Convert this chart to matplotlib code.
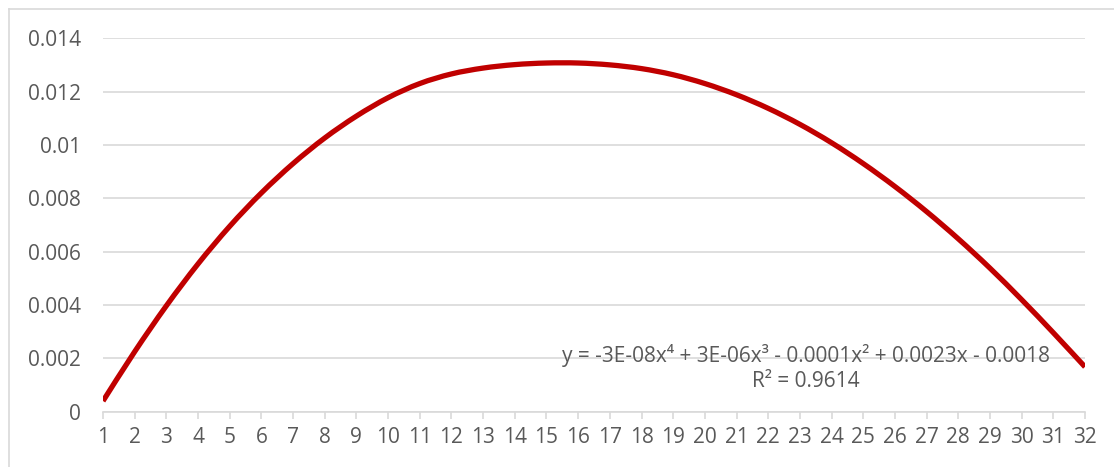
import numpy as np
import matplotlib.pyplot as plt
from matplotlib.lines import Line2D
from matplotlib.path import Path
from matplotlib.patches import PathPatch

# valores
dias = list(range(1, 33))
valores = [0.00040, 0.00225, 0.00397, 0.00554, 0.00695, 0.00820, 0.00930, 0.01026,
           0.01108, 0.01177, 0.01230, 0.01266, 0.01288, 0.01301, 0.01307, 0.01307,
           0.01300, 0.01286, 0.01263, 0.01230, 0.01188, 0.01137, 0.01077, 0.01008,
           0.00930, 0.00844, 0.00750, 0.00648, 0.00538, 0.00420, 0.00296, 0.00168]
ecuacion = 'y = -3E-08x\u2074 + 3E-06x\u00b3 - 0.0001x\u00b2 + 0.0023x - 0.0018'
r2 = 'R\u00b2 = 0.9614'

plt.rcParams['font.family'] = ['Open Sans', 'DejaVu Sans']
gris_txt = '#595959'
gris_lin = '#D9D9D9'

fig = plt.figure(figsize=(11.14, 4.67), dpi=100)
ax = fig.add_axes([103 / 1114, 1 - 411.7 / 467, (1085 - 103) / 1114, (411.7 - 38.2) / 467])

# linea suavizada como en Excel (curvas de Bezier entre los puntos)
x = np.array(dias, dtype=float)
y = np.array(valores)
verts = [(x[0], y[0])]
codes = [Path.MOVETO]
for i in range(len(x) - 1):
    x0, y0 = (x[i - 1], y[i - 1]) if i > 0 else (x[i], y[i])
    x3, y3 = (x[i + 2], y[i + 2]) if i + 2 < len(x) else (x[i + 1], y[i + 1])
    c1 = (x[i] + (x[i + 1] - x0) / 6, y[i] + (y[i + 1] - y0) / 6)
    c2 = (x[i + 1] - (x3 - x[i]) / 6, y[i + 1] - (y3 - y[i]) / 6)
    verts += [c1, c2, (x[i + 1], y[i + 1])]
    codes += [Path.CURVE4] * 3
ax.add_patch(PathPatch(Path(verts, codes), facecolor='none', edgecolor='#C00000',
                       linewidth=3.8, capstyle='butt', joinstyle='round', zorder=3))

ax.set_xlim(1, 32)
ax.set_ylim(0, 0.014)
ax.set_yticks(np.arange(0, 0.0141, 0.002))
ax.set_yticklabels(['0', '0.002', '0.004', '0.006', '0.008', '0.01', '0.012', '0.014'])
ax.set_xticks(dias)
ax.set_xticklabels([str(d) for d in dias])

ax.grid(axis='y', color=gris_lin, linewidth=1.2)
ax.set_axisbelow(True)
for lado in ['top', 'right', 'left']:
    ax.spines[lado].set_visible(False)
ax.spines['bottom'].set_color(gris_lin)
ax.spines['bottom'].set_linewidth(1.2)
ax.tick_params(axis='x', direction='out', length=5, width=1.2, color=gris_lin,
               labelcolor=gris_txt, labelsize=15, pad=6)
ax.tick_params(axis='y', length=0, labelcolor=gris_txt, labelsize=15, pad=16)

# ecuacion de la linea de tendencia
ax.text(23.2, 0.00212, ecuacion, ha='center', va='center', fontsize=15, color=gris_txt)
ax.text(23.2, 0.00112, r2, ha='center', va='center', fontsize=15, color=gris_txt)

# borde del area del grafico
fig.add_artist(Line2D([9 / 1114, 9 / 1114], [0, 1 - 9 / 467], color=gris_lin, linewidth=1.2))
fig.add_artist(Line2D([9 / 1114, 1], [1 - 9 / 467, 1 - 9 / 467], color=gris_lin, linewidth=1.2))

fig.savefig('out.png', dpi=100)
